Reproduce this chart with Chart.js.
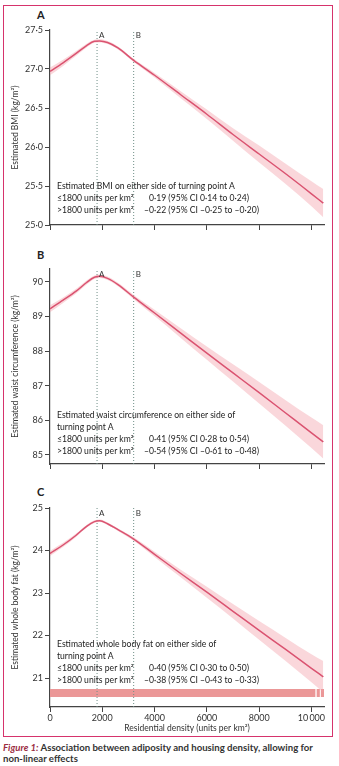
<!DOCTYPE html>
<html lang="en">
<head>
<meta charset="UTF-8">
<title>Association between adiposity and housing density</title>
<script src="https://cdn.jsdelivr.net/npm/chart.js"></script>
<style>
    body {
        margin: 0;
        background: #fff;
        font-family: Lato, "Open Sans", sans-serif;
        color: #222;
    }
    #wrap {
        position: relative;
        width: 339px;
        height: 766px;
        overflow: hidden;
    }
    #wrap canvas {
        position: absolute;
        left: 0;
    }
    .frame {
        position: absolute;
        left: 3px;
        top: 5px;
        width: 328px;
        height: 730px;
        border: 1.5px solid #d6336c;
    }
    .plabel {
        position: absolute;
        font-weight: bold;
        font-size: 11px;
    }
    .note {
        position: absolute;
        font-size: 8.6px;
        line-height: 12px;
        white-space: nowrap;
        color: #222;
    }
    .note .lab {
        display: inline-block;
        width: 87px;
    }
    .note .hid {
        visibility: hidden;
    }
    .caption {
        position: absolute;
        left: 3px;
        top: 742px;
        width: 330px;
        font-size: 9.6px;
        line-height: 11px;
        font-weight: bold;
        color: #333;
    }
    .caption em {
        color: #9b2c3f;
    }
</style>
</head>
<body>
<div id="wrap">
    <div class="frame"></div>

    <div class="plabel" style="left:37px;top:8px">A</div>
    <canvas id="bmiChart" width="339" height="217" style="top:18px"></canvas>
    <div class="note" style="left:57px;top:180px">
        <div>Estimated BMI on either side of turning point A</div>
        <div><span class="lab">≤1800 units per km²</span><span class="hid">–</span>0·19 (95% CI 0·14 to 0·24)</div>
        <div><span class="lab">&gt;1800 units per km²</span>–0·22 (95% CI –0·25 to –0·20)</div>
    </div>

    <div class="plabel" style="left:37px;top:248px">B</div>
    <canvas id="waistChart" width="339" height="219" style="top:255px"></canvas>
    <div class="note" style="left:57px;top:409px">
        <div>Estimated waist circumference on either side of</div>
        <div>turning point A</div>
        <div><span class="lab">≤1800 units per km²</span><span class="hid">–</span>0·41 (95% CI 0·28 to 0·54)</div>
        <div><span class="lab">&gt;1800 units per km²</span>–0·54 (95% CI –0·61 to –0·48)</div>
    </div>

    <div class="plabel" style="left:37px;top:485px">C</div>
    <canvas id="fatChart" width="339" height="239" style="top:495px"></canvas>
    <div class="note" style="left:57px;top:638px">
        <div>Estimated whole body fat on either side of</div>
        <div>turning point A</div>
        <div><span class="lab">≤1800 units per km²</span><span class="hid">–</span>0·40 (95% CI 0·30 to 0·50)</div>
        <div><span class="lab">&gt;1800 units per km²</span>–0·38 (95% CI –0·43 to –0·33)</div>
    </div>

    <div class="caption"><em>Figure 1:</em> Association between adiposity and housing density, allowing for non-linear effects</div>
</div>

<script>
    // residential density (units per km2)
    const density = [0, 500, 1000, 1400, 1700, 1900, 2200, 2600, 3200, 4000, 5000, 6000, 7000, 8000, 9000, 10000, 10450];

    const bmi     = [26.97, 27.08, 27.20, 27.30, 27.355, 27.36, 27.34, 27.27, 27.11, 26.92, 26.67, 26.42, 26.16, 25.91, 25.66, 25.40, 25.28];
    const bmiLow  = [26.92, 27.04, 27.17, 27.275, 27.335, 27.34, 27.32, 27.25, 27.09, 26.89, 26.625, 26.36, 26.08, 25.80, 25.53, 25.24, 25.10];
    const bmiHigh = [27.02, 27.12, 27.23, 27.325, 27.375, 27.38, 27.36, 27.29, 27.13, 26.95, 26.715, 26.48, 26.24, 26.02, 25.79, 25.56, 25.46];

    const waist     = [89.22, 89.47, 89.73, 89.98, 90.13, 90.16, 90.10, 89.92, 89.56, 89.10, 88.52, 87.94, 87.37, 86.80, 86.22, 85.64, 85.38];
    const waistLow  = [89.12, 89.39, 89.66, 89.92, 90.08, 90.11, 90.05, 89.87, 89.50, 89.01, 88.38, 87.75, 87.12, 86.49, 85.85, 85.20, 84.90];
    const waistHigh = [89.32, 89.55, 89.80, 90.04, 90.18, 90.21, 90.15, 89.97, 89.62, 89.19, 88.66, 88.13, 87.62, 87.11, 86.59, 86.08, 85.86];

    const bodyFat     = [23.93, 24.13, 24.36, 24.57, 24.68, 24.70, 24.63, 24.49, 24.27, 23.91, 23.46, 23.02, 22.57, 22.12, 21.68, 21.23, 21.03];
    const bodyFatLow  = [23.87, 24.08, 24.32, 24.54, 24.65, 24.67, 24.60, 24.46, 24.23, 23.85, 23.37, 22.89, 22.40, 21.90, 21.41, 20.90, 20.66];
    const bodyFatHigh = [23.99, 24.18, 24.40, 24.60, 24.71, 24.73, 24.66, 24.52, 24.31, 23.97, 23.55, 23.15, 22.74, 22.34, 21.95, 21.56, 21.40];

    const turningPoints = [1800, 3200];
    const turningLabels = ['A', 'B'];

    // observed density range shown as a rug under panel C
    const rugSegments = [[0, 10150], [10200, 10320], [10360, 10480]];

    const xTicks = [0, 2000, 4000, 6000, 8000, 10000];
    const xTickLabels = ['0', '2000', '4000', '6000', '8000', '10\u2009000'];
    const bmiTicks = [25.0, 25.5, 26.0, 26.5, 27.0, 27.5];
    const waistTicks = [85, 86, 87, 88, 89, 90];
    const fatTicks = [21, 22, 23, 24, 25];

    const LINE = '#c81c48';
    const BAND = 'rgba(243, 160, 170, 0.42)';
    const AXIS = '#444';
    const DOTS = '#6f8f87';

    Chart.defaults.font.family = 'Lato, "Open Sans", sans-serif';
    Chart.defaults.font.size = 8.5;
    Chart.defaults.color = '#333';

    const pts = arr => density.map((x, i) => ({ x: x, y: arr[i] }));
    const fmt = (v, d) => v.toFixed(d).replace('.', '·');

    const markerPlugin = {
        id: 'markers',
        afterDatasetsDraw(chart) {
            const ctx = chart.ctx;
            const xs = chart.scales.x;
            ctx.save();
            ctx.font = '8px Lato, sans-serif';
            ctx.fillStyle = '#333';
            ctx.textBaseline = 'middle';
            turningPoints.forEach((tp, i) => {
                ctx.fillText(turningLabels[i], xs.getPixelForValue(tp) + 2, chart.chartArea.top + 5);
            });
            ctx.restore();
        }
    };

    const rugPlugin = {
        id: 'rug',
        beforeDatasetsDraw(chart) {
            const ctx = chart.ctx;
            const xs = chart.scales.x;
            const bottom = chart.chartArea.bottom;
            ctx.save();
            ctx.fillStyle = '#eb9797';
            rugSegments.forEach(s => {
                const a = xs.getPixelForValue(s[0]);
                const b = xs.getPixelForValue(s[1]);
                ctx.fillRect(a, bottom - 18, b - a, 8);
            });
            ctx.restore();
        }
    };

    function makePanel(id, opts) {
        const vlines = turningPoints.map(tp => ({
            data: [{ x: tp, y: opts.min }, { x: tp, y: opts.max }],
            borderColor: DOTS,
            borderWidth: 1,
            borderDash: [1, 2],
            pointRadius: 0,
            fill: false
        }));

        return new Chart(document.getElementById(id), {
            type: 'line',
            data: {
                datasets: [
                    {
                        data: pts(opts.high),
                        borderWidth: 0,
                        pointRadius: 0,
                        backgroundColor: BAND,
                        fill: '+1',
                        cubicInterpolationMode: 'monotone'
                    },
                    {
                        data: pts(opts.low),
                        borderWidth: 0,
                        pointRadius: 0,
                        fill: false,
                        cubicInterpolationMode: 'monotone'
                    },
                    {
                        data: pts(opts.mid),
                        borderColor: LINE,
                        borderWidth: 1.5,
                        pointRadius: 0,
                        fill: false,
                        cubicInterpolationMode: 'monotone'
                    },
                    ...vlines
                ]
            },
            options: {
                responsive: false,
                animation: false,
                events: [],
                layout: { padding: { left: 0, right: 15, top: opts.padTop, bottom: 0 } },
                plugins: {
                    legend: { display: false },
                    tooltip: { enabled: false }
                },
                scales: {
                    x: {
                        type: 'linear',
                        min: 0,
                        max: 10480,
                        afterBuildTicks: s => { s.ticks = xTicks.map(v => ({ value: v })); },
                        afterFit: s => { s.height = opts.xHeight; },
                        border: { display: true, color: AXIS, width: 1.2 },
                        grid: { drawOnChartArea: false, drawTicks: true, tickLength: 5, color: AXIS },
                        ticks: {
                            display: opts.showX,
                            padding: 1,
                            maxRotation: 0,
                            font: { size: 9 },
                            callback: v => xTickLabels[xTicks.indexOf(v)]
                        },
                        title: {
                            display: opts.showX,
                            text: 'Residential density (units per km²)',
                            padding: { top: 0, bottom: 1 },
                            font: { size: 8.5 }
                        }
                    },
                    y: {
                        min: opts.min,
                        max: opts.max,
                        afterBuildTicks: s => { s.ticks = opts.ticks.map(v => ({ value: v })); },
                        afterFit: s => { s.width = 50; },
                        border: { display: true, color: AXIS, width: 1.2 },
                        grid: { drawOnChartArea: false, drawTicks: true, tickLength: 5, color: AXIS },
                        ticks: { padding: 2, callback: v => fmt(v, opts.dec), font: { size: 9 } },
                        title: {
                            display: true,
                            text: opts.title,
                            padding: { top: 10, bottom: 0 },
                            font: { size: 8.5 }
                        }
                    }
                }
            },
            plugins: opts.rug ? [markerPlugin, rugPlugin] : [markerPlugin]
        });
    }

    makePanel('bmiChart', {
        mid: bmi, low: bmiLow, high: bmiHigh,
        min: 25, max: 27.5, ticks: bmiTicks, dec: 1,
        title: 'Estimated BMI (kg/m²)',
        padTop: 12, xHeight: 10, showX: false
    });

    makePanel('waistChart', {
        mid: waist, low: waistLow, high: waistHigh,
        min: 84.74, max: 90.37, ticks: waistTicks, dec: 0,
        title: 'Estimated waist circumference (kg/m²)',
        padTop: 14, xHeight: 10, showX: false
    });

    makePanel('fatChart', {
        mid: bodyFat, low: bodyFatLow, high: bodyFatHigh,
        min: 20.32, max: 25, ticks: fatTicks, dec: 0,
        title: 'Estimated whole body fat (kg/m²)',
        padTop: 13, xHeight: 27, showX: true, rug: true
    });
</script>
</body>
</html>
